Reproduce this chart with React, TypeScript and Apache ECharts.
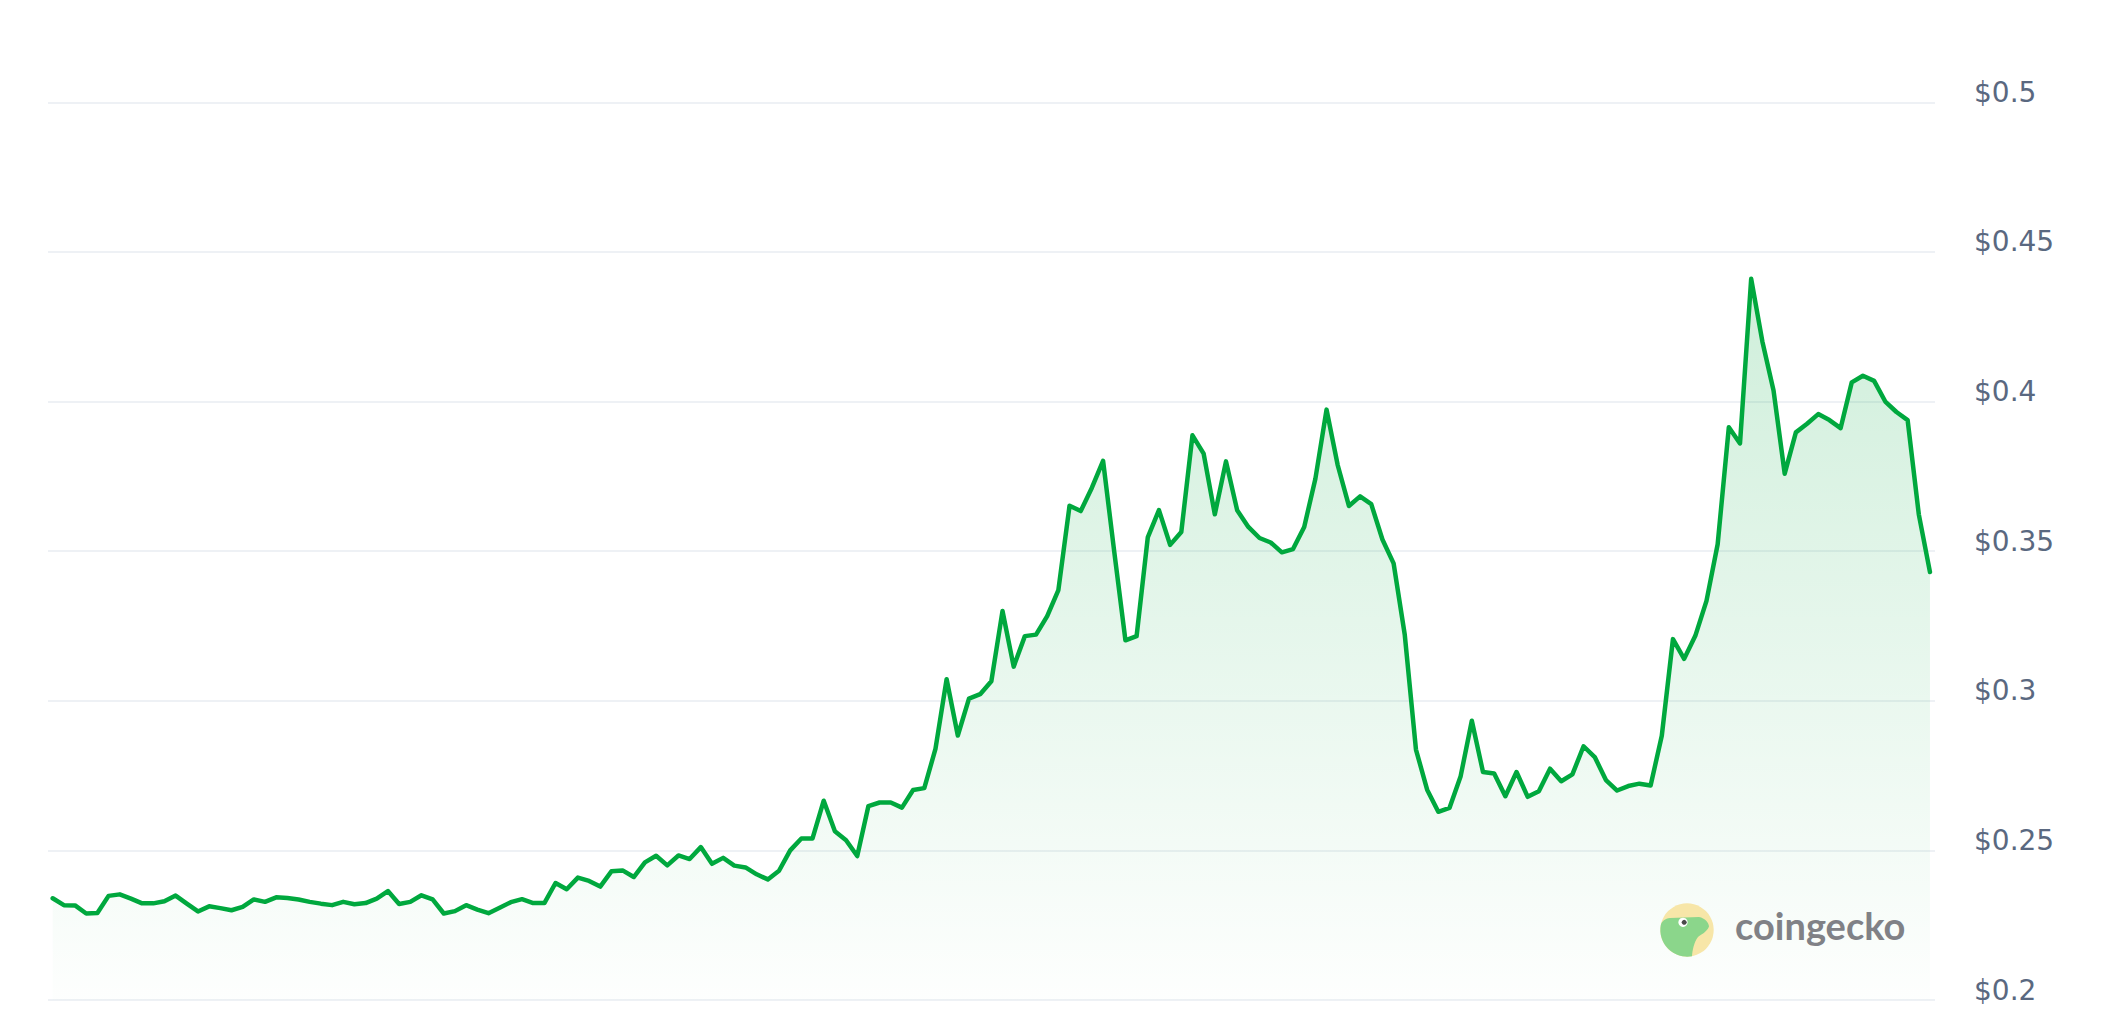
import React, { useEffect, useRef } from "react";
import * as echarts from "echarts";

// Hourly price samples (7 days, 169 points)
const prices: number[] = [
  0.2340, 0.2317, 0.2316, 0.2289, 0.2291, 0.2348, 0.2353, 0.2339, 0.2323, 0.2323,
  0.2330, 0.2349, 0.2322, 0.2296, 0.2313, 0.2307, 0.2300, 0.2311, 0.2336, 0.2328,
  0.2343, 0.2341, 0.2336, 0.2328, 0.2322, 0.2317, 0.2328, 0.2320, 0.2324, 0.2339,
  0.2364, 0.2321, 0.2328, 0.2350, 0.2336, 0.2289, 0.2297, 0.2317, 0.2302, 0.2290,
  0.2308, 0.2327, 0.2337, 0.2324, 0.2324, 0.2391, 0.2370, 0.2409, 0.2398, 0.2379,
  0.2430, 0.2433, 0.2411, 0.2460, 0.2482, 0.2450, 0.2483, 0.2471, 0.2511, 0.2455,
  0.2475, 0.2449, 0.2443, 0.2420, 0.2403, 0.2432, 0.2500, 0.2540, 0.2540, 0.2666,
  0.2564, 0.2534, 0.2481, 0.2648, 0.2660, 0.2660, 0.2643, 0.2702, 0.2708, 0.2839,
  0.3072, 0.2884, 0.3007, 0.3022, 0.3065, 0.3300, 0.3114, 0.3216, 0.3221, 0.3283,
  0.3370, 0.3652, 0.3634, 0.3712, 0.3802, 0.3498, 0.3202, 0.3216, 0.3546, 0.3637,
  0.3521, 0.3564, 0.3887, 0.3826, 0.3623, 0.3800, 0.3637, 0.3581, 0.3544, 0.3529,
  0.3496, 0.3507, 0.3581, 0.3742, 0.3973, 0.3787, 0.3651, 0.3683, 0.3657, 0.3539,
  0.3459, 0.3220, 0.2837, 0.2703, 0.2629, 0.2642, 0.2748, 0.2933, 0.2762, 0.2757,
  0.2681, 0.2762, 0.2679, 0.2698, 0.2773, 0.2731, 0.2754, 0.2848, 0.2812, 0.2735,
  0.2700, 0.2715, 0.2723, 0.2717, 0.2883, 0.3206, 0.3140, 0.3217, 0.3334, 0.3523,
  0.3914, 0.3860, 0.4410, 0.4201, 0.4037, 0.3759, 0.3897, 0.3926, 0.3958, 0.3938,
  0.3911, 0.4064, 0.4086, 0.4069, 0.4000, 0.3965, 0.3938, 0.3623, 0.3430,
];

const yTickValues: number[] = [0.2, 0.25, 0.3, 0.35, 0.4, 0.45, 0.5];
const yTickLabels: string[] = ["$0.2", "$0.25", "$0.3", "$0.35", "$0.4", "$0.45", "$0.5"];

const watermarkText = "coingecko";

const geckoPath =
  "M -26.2 -5 C -25 -9 -22 -11.5 -17 -12 L 12 -13 C 18 -12 22 -7 22 -3.5 C 20 2 14 4.5 11 7 C 7 12 5.5 20 5 26.2 A 26.7 26.7 0 0 1 -26.2 -5 Z";

let registered = false;

export default function App() {
  const ref = useRef<HTMLDivElement>(null);

  useEffect(() => {
    if (!ref.current) return;
    if (!registered) {
      echarts.graphic.registerShape("geckohead", echarts.graphic.extendPath(geckoPath, {}));
      registered = true;
    }
    const chart = echarts.init(ref.current, null, { renderer: "svg" });
    const cx = 1687;
    const cy = 930;
    chart.setOption({
      animation: false,
      backgroundColor: "#ffffff",
      grid: { left: 48, right: 171, top: 102.3, bottom: 29 },
      xAxis: {
        type: "value",
        min: -0.42,
        max: prices.length - 1 + 0.45,
        show: false,
      },
      yAxis: {
        type: "value",
        position: "right",
        min: 0.2,
        max: 0.5,
        interval: 0.05,
        axisLine: { show: false },
        axisTick: { show: false },
        splitLine: { lineStyle: { color: "#eef1f5", width: 2 } },
        axisLabel: {
          margin: 39,
          color: "#5a6880",
          fontFamily: "DejaVu Sans",
          fontSize: 28,
          verticalAlign: "bottom",
          lineHeight: 20,
          formatter: (v: number) => {
            let best = 0;
            for (let i = 0; i < yTickValues.length; i++) {
              if (Math.abs(yTickValues[i] - v) < Math.abs(yTickValues[best] - v)) best = i;
            }
            return yTickLabels[best];
          },
        },
      },
      series: [
        {
          type: "line",
          data: prices.map((v, i) => [i, v]),
          symbol: "none",
          showSymbol: false,
          silent: true,
          lineStyle: { color: "#00a83e", width: 4.5, join: "round", cap: "round" },
          areaStyle: {
            color: new echarts.graphic.LinearGradient(0, 0, 0, 1, [
              { offset: 0, color: "rgba(0,168,62,0.27)" },
              { offset: 1, color: "rgba(0,168,62,0.01)" },
            ]),
          },
          z: 2,
        },
      ],
      graphic: [
        {
          type: "circle",
          z: 10,
          shape: { cx, cy, r: 26.7 },
          style: { fill: "#f7e6a8" },
        },
        {
          type: "geckohead",
          z: 11,
          x: cx,
          y: cy,
          scaleX: 1,
          scaleY: 1,
          style: { fill: "#8bd68b" },
        },
        {
          type: "circle",
          z: 12,
          shape: { cx: cx - 4, cy: cy - 7.7, r: 4.6 },
          style: { fill: "#ffffff" },
        },
        {
          type: "circle",
          z: 13,
          shape: { cx: cx - 2.8, cy: cy - 7.7, r: 2.5 },
          style: { fill: "#4a4a4a" },
        },
        {
          type: "text",
          z: 12,
          x: 1735,
          y: 925,
          style: {
            text: watermarkText,
            fontFamily: "Lato",
            fontWeight: "bold",
            fontSize: 38,
            fill: "#808186",
            align: "left",
            verticalAlign: "middle",
          },
        },
      ],
    });
    return () => chart.dispose();
  }, []);

  return (
    <div
      ref={ref}
      style={{ position: "fixed", left: 0, top: 0, width: "2106px", height: "1029px" }}
    />
  );
}
